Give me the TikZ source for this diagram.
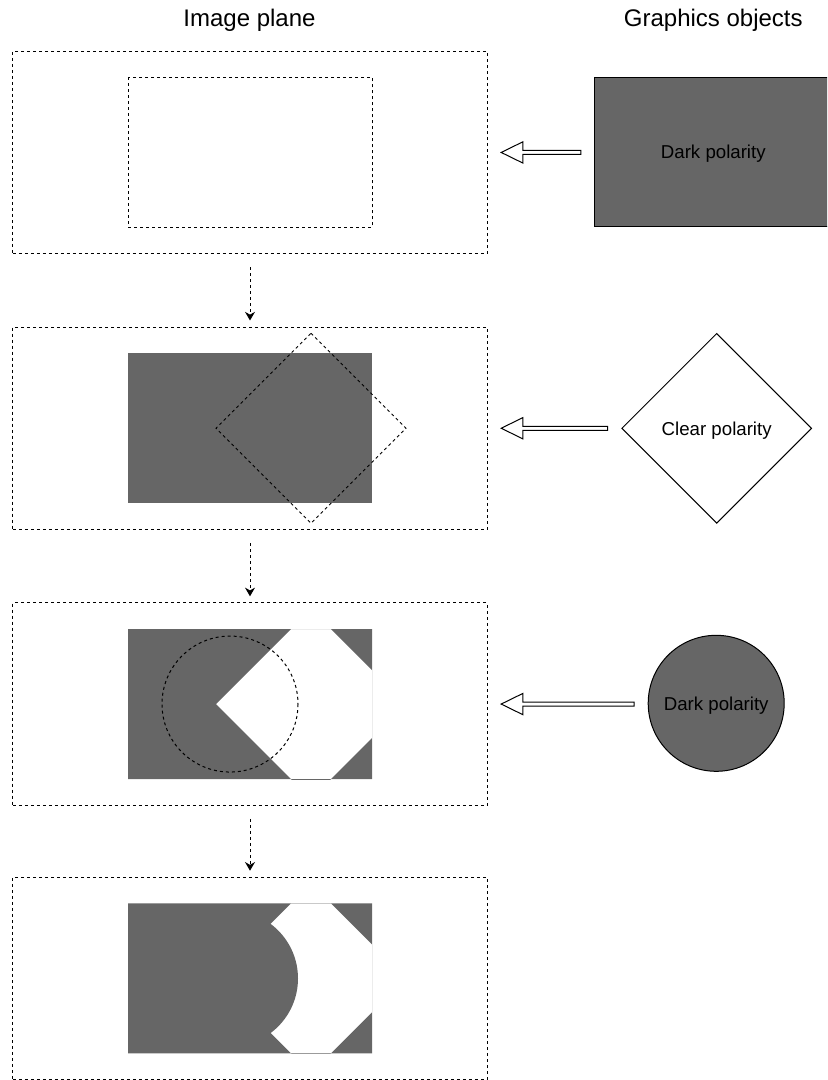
\documentclass[tikz,border=0pt]{standalone}
\usepackage{fontspec}
\setmainfont{Liberation Sans}
\usetikzlibrary{shapes.geometric,arrows.meta,calc}
\definecolor{darkfill}{HTML}{666666}
\newcommand{\blkarrow}[2]{%
  \draw[blockarrow] let \p1=(#1), \p2=(#2) in
    (\x1,\y1) -- (\x1+16.3pt,\y1+8pt) -- (\x1+16.3pt,\y1+1.5pt) -- (\x2,\y1+1.5pt)
    -- (\x2,\y1-1.5pt) -- (\x1+16.3pt,\y1-1.5pt) -- (\x1+16.3pt,\y1-8pt) -- cycle;}
\begin{document}
\begin{tikzpicture}[x=0.75pt,y=-0.75pt,
  dashline/.style={line width=0.75pt, dash pattern=on 2.25pt off 2.25pt},
  panel/.style={dashline, draw, minimum width=355.8pt, minimum height=151.875pt, inner sep=0pt, anchor=north west},
  titletext/.style={anchor=base, font=\fontsize{18pt}{20pt}\selectfont},
  labeltext/.style={font=\fontsize{14pt}{16pt}\selectfont, text depth=0pt, inner sep=0pt},
  blockarrow/.style={line width=0.75pt, draw=black, fill=white},
  downarrow/.style={dashline, -{Stealth[length=6.5pt,width=7.5pt]}},
  darkshape/.style={fill=darkfill}
]
\clip (0,0) rectangle (827,1080);

% titles
\node[titletext] (t1) at (249.5,27) {Image plane};
\node[titletext] (t2) at (713.3,27) {Graphics objects};

% panels
\node[panel] (p1) at (12.3,50.7) {};
\node[panel] (p2) at (12.3,326.5) {};
\node[panel] (p3) at (12.3,602.3) {};
\node[panel] (p4) at (12.3,876.7) {};

% panel 1: dashed inner rectangle
\draw[dashline] ($(p1.center)+(-122,-75)$) rectangle ($(p1.center)+(122,75)$);

% panel 2: dark rectangle + dashed diamond
\fill[darkshape] ($(p2.center)+(-122,-75)$) rectangle ($(p2.center)+(122,75)$);
\draw[dashline] ($(p2.center)+(61,-95)$) -- ($(p2.center)+(156,0)$) -- ($(p2.center)+(61,95)$) -- ($(p2.center)+(-34,0)$) -- cycle;

% panel 3: rectangle minus diamond + dashed circle
\begin{scope}
  \clip ($(p3.center)+(-122,-75)$) rectangle ($(p3.center)+(122,75)$);
  \fill[darkshape, even odd rule] ($(p3.center)+(-122,-75)$) rectangle ($(p3.center)+(122,75)$)
    ($(p3.center)+(61,-95)$) -- ($(p3.center)+(156,0)$) -- ($(p3.center)+(61,95)$) -- ($(p3.center)+(-34,0)$) -- cycle;
\end{scope}
\draw[dashline] ($(p3.center)+(-20,0)$) circle[radius=68];

% panel 4: result
\begin{scope}
  \clip ($(p4.center)+(-122,-75)$) rectangle ($(p4.center)+(122,75)$);
  \fill[darkshape, even odd rule] ($(p4.center)+(-122,-75)$) rectangle ($(p4.center)+(122,75)$)
    ($(p4.center)+(61,-95)$) -- ($(p4.center)+(156,0)$) -- ($(p4.center)+(61,95)$) -- ($(p4.center)+(-34,0)$) -- cycle;
\end{scope}
\fill[darkshape] ($(p4.center)+(-20,0)$) circle[radius=68];

% graphics objects
\node[draw, line width=0.75pt, fill=darkfill, minimum width=199pt, minimum height=111.75pt, inner sep=0pt, anchor=west] (o1) at (594.3,152.2) {};
\node[labeltext] (l1) at (713.3,152.2) {Dark polarity};
\node[draw, line width=0.75pt, fill=white, shape=diamond, minimum width=142.5pt, minimum height=142.5pt, labeltext] (o2) at (716.7,428.3) {Clear polarity};
\node[draw, line width=0.75pt, fill=darkfill, circle, minimum size=102pt, labeltext] (o3) at (716.2,703.3) {Dark polarity};

% hollow arrows
\blkarrow{$(p1.east)+(13.5,0)$}{$(o1.west)+(-13.5,0)$}
\blkarrow{$(p2.east)+(13.5,0)$}{$(o2.west)+(-13.5,0)$}
\blkarrow{$(p3.east)+(13.5,0)$}{$(o3.west)+(-13.5,0)$}

% dashed down arrows
\draw[downarrow] ($(p1.south)+(0,13)$) -- ($(p2.north)+(0,-6)$);
\draw[downarrow] ($(p2.south)+(0,13)$) -- ($(p3.north)+(0,-6)$);
\draw[downarrow] ($(p3.south)+(0,13)$) -- ($(p4.north)+(0,-6)$);
\end{tikzpicture}
\end{document}
